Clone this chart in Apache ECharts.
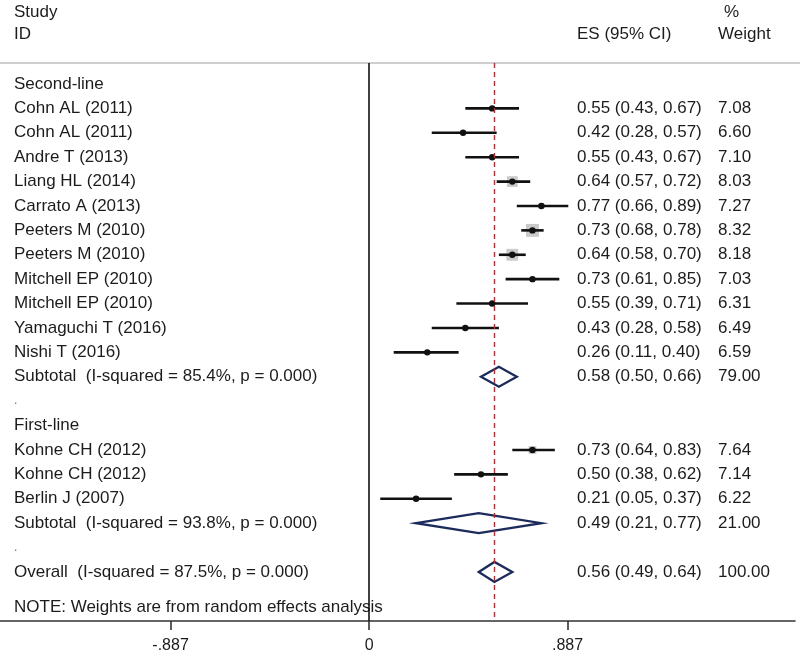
<!DOCTYPE html>
<html><head><meta charset="utf-8">
<script src="https://cdn.jsdelivr.net/npm/echarts@6/dist/echarts.min.js"></script>
<style>html,body{margin:0;padding:0;background:#fff}#c{width:800px;height:655px}</style>
</head><body><div id="c"></div>
<script>
// ---- data ----
const groupLabels = ["Second-line", "First-line"];
const secondStudies = ["Cohn AL (2011)", "Cohn AL (2011)", "Andre T (2013)", "Liang HL (2014)", "Carrato A (2013)", "Peeters M (2010)", "Peeters M (2010)", "Mitchell EP (2010)", "Mitchell EP (2010)", "Yamaguchi T (2016)", "Nishi T (2016)"];
const secondES = [0.55, 0.42, 0.55, 0.64, 0.77, 0.73, 0.64, 0.73, 0.55, 0.43, 0.26];
const secondLo = [0.43, 0.28, 0.43, 0.57, 0.66, 0.68, 0.58, 0.61, 0.39, 0.28, 0.11];
const secondHi = [0.67, 0.57, 0.67, 0.72, 0.89, 0.78, 0.70, 0.85, 0.71, 0.58, 0.40];
const secondW = [7.08, 6.60, 7.10, 8.03, 7.27, 8.32, 8.18, 7.03, 6.31, 6.49, 6.59];
const firstStudies = ["Kohne CH (2012)", "Kohne CH (2012)", "Berlin J (2007)"];
const firstES = [0.73, 0.50, 0.21];
const firstLo = [0.64, 0.38, 0.05];
const firstHi = [0.83, 0.62, 0.37];
const firstW = [7.64, 7.14, 6.22];
const subtotalLabels = ["Subtotal  (I-squared = 85.4%, p = 0.000)", "Subtotal  (I-squared = 93.8%, p = 0.000)"];
const subtotalES = [0.58, 0.49];
const subtotalLo = [0.50, 0.21];
const subtotalHi = [0.66, 0.77];
const subtotalW = [79.00, 21.00];
const overallLabel = "Overall  (I-squared = 87.5%, p = 0.000)";
const overallES = 0.56, overallLo = 0.49, overallHi = 0.64, overallW = 100.00;
const tickValues = [-0.887, 0, 0.887];
const tickLabels = ["-.887", "0", ".887"];
const noteText = "NOTE: Weights are from random effects analysis";

// ---- rows ----
const rows = [];
let r = 0;
function addGroup(gi, names, es, lo, hi, w) {
  rows.push({ y: r++, kind: 'label', label: groupLabels[gi] });
  names.forEach((n, i) => rows.push({ y: r++, kind: 'study', label: n, es: es[i], lo: lo[i], hi: hi[i], w: w[i] }));
  rows.push({ y: r++, kind: 'diamond', label: subtotalLabels[gi], es: subtotalES[gi], lo: subtotalLo[gi], hi: subtotalHi[gi], w: subtotalW[gi] });
  rows.push({ y: r++, kind: 'label', label: '.', small: true });
}
addGroup(0, secondStudies, secondES, secondLo, secondHi, secondW);
addGroup(1, firstStudies, firstES, firstLo, firstHi, firstW);
rows.push({ y: r++, kind: 'diamond', label: overallLabel, es: overallES, lo: overallLo, hi: overallHi, w: overallW });
rows.push({ y: r + 0.45, kind: 'label', label: noteText });

const FONT = '"Liberation Sans", Arial, sans-serif';
const FS = 17;
const TXT = '#1c1c1c';
const ES_X = 577, W_X = 718, LBL_X = 14;

function fmt(v) { return v.toFixed(2); }

function renderItem(params, api) {
  const row = rows[api.value(2)];
  const children = [];
  const cy = api.coord([0, row.y])[1];
  children.push({ type: 'text', style: { text: row.label, x: LBL_X, y: cy, fill: row.small ? '#777' : TXT, fontSize: row.small ? 12 : FS, fontFamily: FONT, verticalAlign: 'middle', align: 'left' } });
  if (row.kind === 'study' || row.kind === 'diamond') {
    const pe = api.coord([row.es, row.y]);
    const pl = api.coord([row.lo, row.y]);
    const ph = api.coord([row.hi, row.y]);
    if (row.kind === 'study') {
      const bs = Math.max(0, (row.w - 6.6) * 7.5);
      if (bs > 0) children.push({ type: 'rect', shape: { x: pe[0] - bs / 2, y: pe[1] - bs / 2, width: bs, height: bs }, style: { fill: '#cacaca' } });
      children.push({ type: 'line', shape: { x1: pl[0], y1: pl[1], x2: ph[0], y2: ph[1] }, style: { stroke: '#111', lineWidth: 2.6 } });
      children.push({ type: 'circle', shape: { cx: pe[0], cy: pe[1], r: 3.2 }, style: { fill: '#111' } });
    } else {
      const h = 10;
      children.push({ type: 'polygon', shape: { points: [[pl[0], pl[1]], [pe[0], pe[1] - h], [ph[0], ph[1]], [pe[0], pe[1] + h]] }, style: { fill: '#fff', stroke: '#1c2a5c', lineWidth: 2.3 } });
    }
    children.push({ type: 'text', style: { text: fmt(row.es) + ' (' + fmt(row.lo) + ', ' + fmt(row.hi) + ')', x: ES_X, y: cy, fill: TXT, fontSize: FS, fontFamily: FONT, verticalAlign: 'middle' } });
    children.push({ type: 'text', style: { text: fmt(row.w), x: W_X, y: cy, fill: TXT, fontSize: FS, fontFamily: FONT, verticalAlign: 'middle' } });
  }
  return { type: 'group', children };
}

const chart = echarts.init(document.getElementById('c'), null, { renderer: 'canvas' });
chart.setOption({
  backgroundColor: '#fff',
  animation: false,
  grid: { left: 0, right: 5, top: 63, bottom: 34, containLabel: false },
  xAxis: {
    type: 'value', min: -1.649, max: 1.903,
    splitLine: { show: false },
    axisLine: { show: true, onZero: false, lineStyle: { color: '#333', width: 1.6 } },
    axisTick: { show: true, customValues: tickValues, length: 9, inside: false, lineStyle: { color: '#333', width: 1.6 } },
    axisLabel: { show: true, customValues: tickValues, margin: 17, color: TXT, fontSize: 16, fontFamily: FONT,
      formatter: v => tickLabels[tickValues.findIndex(t => Math.abs(t - v) < 1e-6)] || '' }
  },
  yAxis: {
    type: 'value', min: -0.86, max: 22.01, inverse: true, show: false
  },
  graphic: [
    { type: 'line', shape: { x1: 0, y1: 63, x2: 800, y2: 63 }, style: { stroke: '#cfcfcf', lineWidth: 2 } },
    { type: 'text', style: { text: 'Study', x: LBL_X, y: 12, fill: TXT, fontSize: FS, fontFamily: FONT, verticalAlign: 'middle' } },
    { type: 'text', style: { text: 'ID', x: LBL_X, y: 34, fill: TXT, fontSize: FS, fontFamily: FONT, verticalAlign: 'middle' } },
    { type: 'text', style: { text: 'ES (95% CI)', x: ES_X, y: 34, fill: TXT, fontSize: FS, fontFamily: FONT, verticalAlign: 'middle' } },
    { type: 'text', style: { text: '%', x: 724, y: 12, fill: TXT, fontSize: FS, fontFamily: FONT, verticalAlign: 'middle' } },
    { type: 'text', style: { text: 'Weight', x: W_X, y: 34, fill: TXT, fontSize: FS, fontFamily: FONT, verticalAlign: 'middle' } }
  ],
  series: [{
    type: 'custom',
    renderItem: renderItem,
    clip: false,
    data: rows.map((row, i) => [row.es == null ? 0 : row.es, row.y, i]),
    encode: { x: 0, y: 1 },
    z: 3,
    markLine: {
      silent: true, symbol: 'none', label: { show: false }, animation: false,
      data: [
        { xAxis: 0, lineStyle: { color: '#111', width: 1.6, type: 'solid' } },
        { xAxis: overallES, lineStyle: { color: '#a8323a', width: 1.4, type: [5, 4] } }
      ]
    }
  }]
});
</script>
</body></html>
